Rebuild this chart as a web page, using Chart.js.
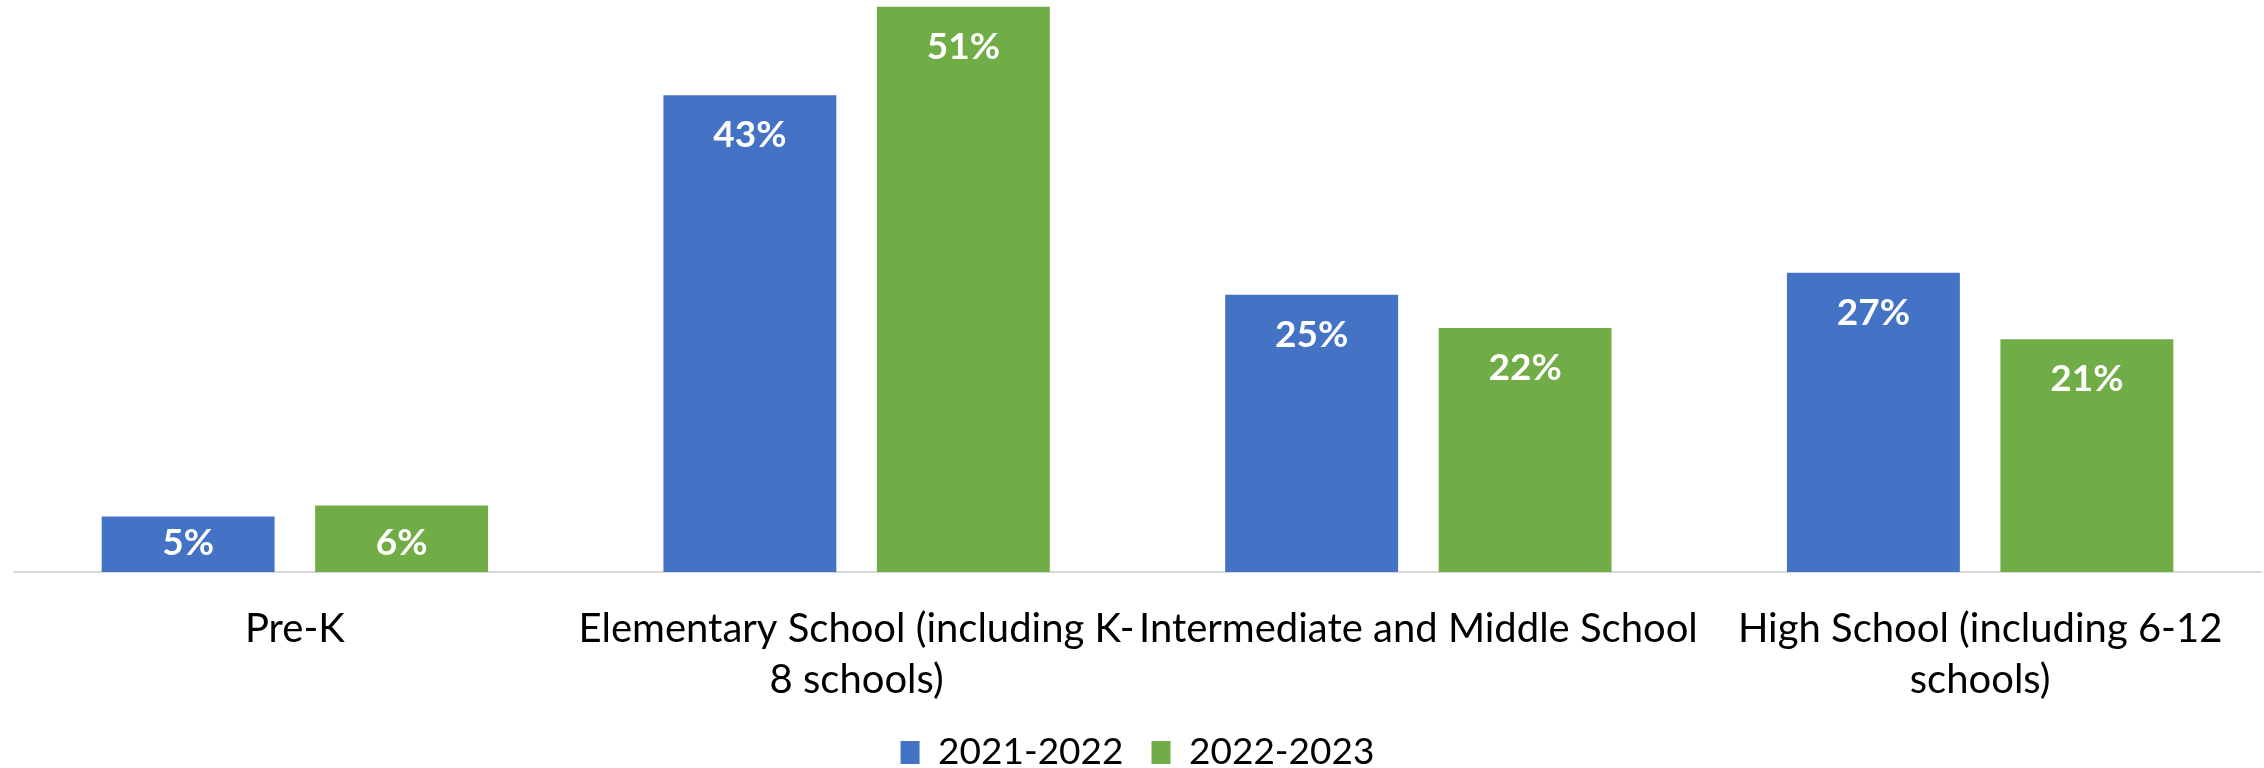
<!DOCTYPE html>
<html>
<head>
<meta charset="utf-8">
<script src="https://cdn.jsdelivr.net/npm/chart.js@4.4.0/dist/chart.umd.min.js"></script>
<style>
  html, body { margin: 0; padding: 0; background: #fff; }
  #wrap { width: 2264px; height: 768px; }
</style>
</head>
<body>
<div id="wrap"><canvas id="school-chart"></canvas></div>
<script>
const categories = [
  'Pre-K',
  ['Elementary School (including K-', '8 schools)'],
  'Intermediate and Middle School',
  ['High School (including 6-12', 'schools)']
];
const seriesNames = ['2021-2022', '2022-2023'];
const values2122 = [5, 43, 25, 27];
const values2223 = [6, 51, 22, 21];

const FONT = 'Lato, "Open Sans", sans-serif';

// white percentage text near the top of each bar (kept off the baseline on short bars)
const barLabels = {
  id: 'barLabels',
  afterDatasetsDraw(chart) {
    const c = chart.ctx;
    c.save();
    c.fillStyle = '#ffffff';
    c.font = 'bold 37px ' + FONT;
    c.textAlign = 'center';
    c.textBaseline = 'middle';
    chart.data.datasets.forEach((ds, i) => {
      chart.getDatasetMeta(i).data.forEach((bar, j) => {
        const y = Math.min(bar.y + 40, bar.base - 29);
        c.fillText(ds.data[j] + '%', bar.x, y);
      });
    });
    c.restore();
  }
};

new Chart(document.getElementById('school-chart'), {
  type: 'bar',
  data: {
    labels: categories,
    datasets: [{
      label: seriesNames[0],
      data: values2122,
      backgroundColor: '#4472C4',
      categoryPercentage: 0.76,
      barPercentage: 0.81
    }, {
      label: seriesNames[1],
      data: values2223,
      backgroundColor: '#70AD47',
      categoryPercentage: 0.76,
      barPercentage: 0.81
    }]
  },
  options: {
    responsive: true,
    maintainAspectRatio: false,
    animation: false,
    layout: { padding: { left: 14, right: 3, top: 0, bottom: -13 } },
    plugins: {
      tooltip: { enabled: false },
      legend: {
        position: 'bottom',
        labels: {
          color: '#000',
          font: { family: FONT, size: 37 },
          boxWidth: 19,
          boxHeight: 23,
          padding: 28
        }
      }
    },
    scales: {
      x: {
        grid: { display: false, drawTicks: false },
        border: { display: true, color: '#D9D9D9', width: 2 },
        ticks: {
          color: '#000',
          font: { family: FONT, size: 40, lineHeight: 1.275 },
          padding: 32,
          maxRotation: 0,
          autoSkip: false
        },
        // two label rows plus padding
        afterFit(scale) { scale.height = 134; }
      },
      y: {
        display: false,
        min: 0,
        max: 51.6
      }
    }
  },
  plugins: [barLabels]
});
</script>
</body>
</html>
